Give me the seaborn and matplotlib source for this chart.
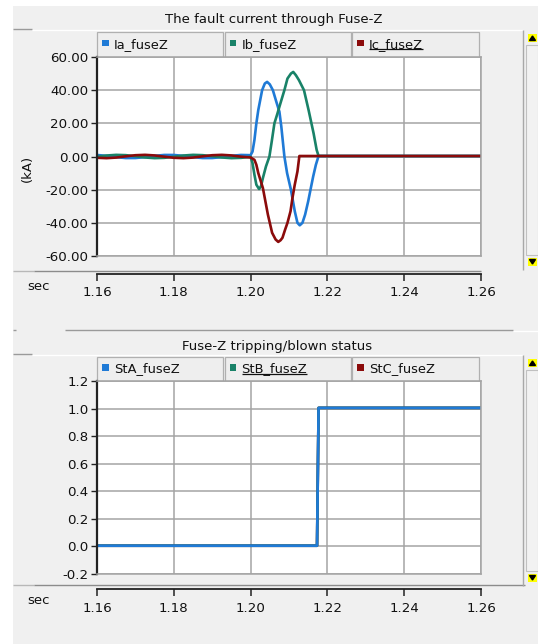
import matplotlib
matplotlib.use("Agg")
import numpy as np
import pandas as pd
import seaborn as sns
import matplotlib.pyplot as plt
from matplotlib.patches import Rectangle, Polygon

# ---------------- data ----------------
t_pre = [1.1600, 1.1625, 1.1650, 1.1675, 1.1700, 1.1725, 1.1750, 1.1775,
         1.1800, 1.1825, 1.1850, 1.1875, 1.1900, 1.1925, 1.1950, 1.1975]
ia_pre = [0.92, 0.37, -0.40, -0.93, -0.92, -0.37, 0.40, 0.93,
          0.92, 0.37, -0.40, -0.93, -0.92, -0.37, 0.40, 0.93]
ib_pre = [-0.16, 0.59, 0.99, 0.81, 0.16, -0.59, -0.99, -0.81,
          -0.16, 0.59, 0.99, 0.81, 0.16, -0.59, -0.99, -0.81]
ic_pre = [-0.77, -1.00, -0.64, 0.10, 0.77, 1.00, 0.64, -0.10,
          -0.77, -1.00, -0.64, 0.10, 0.77, 1.00, 0.64, -0.10]

t_ia = [1.2000, 1.2005, 1.2010, 1.2015, 1.2020, 1.2030, 1.2037, 1.2043, 1.2050,
        1.2058, 1.2067, 1.2075, 1.2080, 1.2088, 1.2095, 1.2105, 1.2115, 1.2122,
        1.2128, 1.2135, 1.2142, 1.2150, 1.2156, 1.2163, 1.2170, 1.2177, 1.2600]
ia_f = [0.8, 3.0, 10.0, 20.0, 28.0, 40.0, 44.0, 45.0, 43.5,
        40.0, 33.0, 27.0, 18.0, 0.0, -10.0, -20.0, -33.0, -40.0,
        -41.5, -40.0, -35.0, -27.0, -20.0, -12.0, -5.0, 0.3, 0.3]

t_ib = [1.2000, 1.2005, 1.2010, 1.2015, 1.2022, 1.2027, 1.2032, 1.2040, 1.2049,
        1.2055, 1.2062, 1.2070, 1.2075, 1.2088, 1.2096, 1.2105, 1.2111, 1.2118,
        1.2126, 1.2139, 1.2151, 1.2164, 1.2172, 1.2177, 1.2600]
ib_f = [-0.2, -4.0, -11.0, -17.0, -19.6, -18.0, -13.0, -6.0, 0.0,
        9.0, 20.0, 26.0, 30.0, 40.0, 47.0, 50.0, 51.0, 49.0,
        46.0, 40.0, 28.0, 14.0, 4.0, 0.3, 0.3]

t_ic = [1.2000, 1.2010, 1.2015, 1.2020, 1.2032, 1.2045, 1.2056, 1.2065, 1.2072,
        1.2078, 1.2083, 1.2090, 1.2096, 1.2104, 1.2109, 1.2115, 1.2122, 1.2127, 1.2600]
ic_f = [-0.6, -2.0, -5.0, -10.0, -19.0, -35.0, -46.0, -50.0, -51.5,
        -50.5, -49.0, -44.0, -40.0, -33.0, -25.0, -17.0, -9.0, 0.3, 0.3]

t_st = [1.1600, 1.2173, 1.2177, 1.2600]
st_a = [0.005, 0.005, 1.005, 1.005]
st_b = [0.005, 0.005, 1.005, 1.005]
st_c = [0.005, 0.005, 1.005, 1.005]

x_ticks = [1.16, 1.18, 1.20, 1.22, 1.24, 1.26]
y_ticks_top = [-60, -40, -20, 0, 20, 40, 60]
y_ticks_bot = [-0.2, 0.0, 0.2, 0.4, 0.6, 0.8, 1.0, 1.2]

top_labels = ["Ia_fuseZ", "Ib_fuseZ", "Ic_fuseZ"]
bot_labels = ["StA_fuseZ", "StB_fuseZ", "StC_fuseZ"]
title_top = "The fault current through Fuse-Z"
title_bot = "Fuse-Z tripping/blown status"

C_BLUE, C_GREEN, C_RED = "#1f7ad6", "#198268", "#8b0b0b"
colors = [C_BLUE, C_GREEN, C_RED]

# ---------------- figure ----------------
sns.set_theme(style="white")
plt.rcParams["font.family"] = ["DejaVu Sans"]

W, H = 538, 644
fig = plt.figure(figsize=(W / 100, H / 100), dpi=100, facecolor="#f0f0f0")

bg = fig.add_axes([0, 0, 1, 1], zorder=0)
bg.set_xlim(0, W)
bg.set_ylim(H, 0)
bg.axis("off")
bg.add_patch(Rectangle((0, 0), 12.7, H, color="white", lw=0))
bg.add_patch(Rectangle((0, 0), W, 6, color="white", lw=0))


def px_axes(x0, y0, x1, y1, z=2):
    return fig.add_axes([x0 / W, 1 - y1 / H, (x1 - x0) / W, (y1 - y0) / H], zorder=z)


def hline(y, x0, x1, c="#a0a0a0", lw=1.0):
    bg.plot([x0, x1], [y, y], color=c, lw=lw, solid_capstyle="butt")


def vline(x, y0, y1, c="#a0a0a0", lw=1.0):
    bg.plot([x, x], [y0, y1], color=c, lw=lw, solid_capstyle="butt")


def style_plot(ax, ylim, yticks, fmt):
    ax.set_facecolor("white")
    ax.set_xlim(1.16, 1.26)
    ax.set_ylim(*ylim)
    ax.set_xticks(x_ticks)
    ax.set_yticks(yticks)
    ax.set_yticklabels([fmt % v for v in yticks], fontsize=9.6, color="#111111")
    ax.tick_params(axis="x", length=0, labelbottom=False)
    ax.tick_params(axis="y", direction="out", length=4, width=1.0, color="#222222", pad=2, left=True)
    ax.grid(True, color="#a4a4a4", lw=1.1)
    ax.set_axisbelow(True)
    for s in ["top", "right", "bottom"]:
        ax.spines[s].set_color("#a4a4a4")
        ax.spines[s].set_linewidth(1.1)
    ax.spines["left"].set_color("#222222")
    ax.spines["left"].set_linewidth(1.6)
    ax.set_xlabel("")
    ax.set_ylabel("")


def x_strip(y):
    ax = px_axes(97, y - 1, 481, y, z=3)
    ax.set_xlim(1.16, 1.26)
    ax.set_ylim(0, 1)
    ax.patch.set_alpha(0)
    for s in ["top", "left", "right"]:
        ax.spines[s].set_visible(False)
    ax.spines["bottom"].set_color("#222222")
    ax.spines["bottom"].set_linewidth(1.3)
    ax.set_yticks([])
    ax.set_xticks(x_ticks)
    ax.set_xticklabels(["%.2f" % v for v in x_ticks], fontsize=9.6, color="#111111")
    ax.tick_params(axis="x", direction="out", length=5, width=1.1, color="#222222", pad=4, bottom=True)
    return ax


def legend_bar(y0, y1, labels, underline_idx):
    xs = [97, 224.5, 352, 480.5]
    yc = (y0 + y1) / 2
    texts = []
    for i, lab in enumerate(labels):
        bg.add_patch(Rectangle((xs[i], y0), xs[i + 1] - xs[i] - 1.5, y1 - y0,
                               facecolor="#eeeeee", edgecolor="#b0b0b0", lw=0.9))
        bg.add_patch(Rectangle((xs[i] + 5, yc - 4.5), 6.5, 6.5, color=colors[i], lw=0))
        t = bg.text(xs[i] + 17, yc, lab, ha="left", va="center", fontsize=9.4, color="#111111")
        texts.append(t)
    return texts[underline_idx]


def scroll(y_top, y_bot):
    vline(523, y_top - 3, y_bot + 3, c="#a8a8a8")
    bg.add_patch(Rectangle((525.5, y_top + 12), 12, (y_bot - 12) - (y_top + 12),
                           facecolor="#f2f2f2", edgecolor="#c0c0c0", lw=0.8))
    bg.add_patch(Rectangle((528, y_top + 1), 9, 8, color="#ffff00", lw=0))
    bg.add_patch(Polygon([(529.5, y_top + 7.5), (535.5, y_top + 7.5), (532.5, y_top + 3)], color="black"))
    bg.add_patch(Rectangle((528, y_bot - 9), 9, 8, color="#ffff00", lw=0))
    bg.add_patch(Polygon([(529.5, y_bot - 7.5), (535.5, y_bot - 7.5), (532.5, y_bot - 3)], color="black"))


# ---- top panel ----
bg.text(274, 19, title_top, ha="center", va="center", fontsize=9.5, color="#111111")
hline(29, 12.7, 32, c="#9a9a9a")
hline(30, 32, 523, c="#ffffff")
u1 = legend_bar(32, 56.5, top_labels, 2)

ax1 = px_axes(97, 57, 481, 256)
sns.lineplot(x=t_pre + t_ia, y=ia_pre + ia_f, ax=ax1, color=C_BLUE, lw=1.9, estimator=None, sort=False)
sns.lineplot(x=t_pre + t_ib, y=ib_pre + ib_f, ax=ax1, color=C_GREEN, lw=1.9, estimator=None, sort=False)
sns.lineplot(x=t_pre + t_ic, y=ic_pre + ic_f, ax=ax1, color=C_RED, lw=1.9, estimator=None, sort=False)
style_plot(ax1, (-60, 60), y_ticks_top, "%.2f")
bg.text(27, 168, "(kA)", rotation=90, ha="center", va="center", fontsize=9.5, color="#111111")

hline(270.5, 12.7, 34, c="#b8b8b8")
hline(270.5, 34, 481, c="#8c8c8c")
x_strip(273.5)
bg.text(39, 286, "sec", ha="center", va="center", fontsize=9.5, color="#111111")
scroll(33, 267)

# ---- bottom panel ----
hline(330, 12.7, 16, c="#9a9a9a")
hline(330, 65, 513, c="#9a9a9a")
hline(331, 513, 538, c="#ffffff")
bg.text(277, 346, title_bot, ha="center", va="center", fontsize=9.5, color="#111111")
hline(354, 12.7, 32, c="#9a9a9a")
hline(355, 32, 523, c="#ffffff")
u2 = legend_bar(356.5, 380.5, bot_labels, 1)

ax2 = px_axes(97, 381, 481, 574)
sns.lineplot(x=t_st, y=st_c, ax=ax2, color=C_RED, lw=1.9, estimator=None, sort=False)
sns.lineplot(x=t_st, y=st_b, ax=ax2, color=C_GREEN, lw=1.9, estimator=None, sort=False)
sns.lineplot(x=t_st, y=st_a, ax=ax2, color=C_BLUE, lw=1.9, estimator=None, sort=False)
style_plot(ax2, (-0.2, 1.2), y_ticks_bot, "%.1f")

hline(584.5, 12.7, 34, c="#b8b8b8")
hline(584.5, 34, 525, c="#8c8c8c")
x_strip(589)
bg.text(39, 600, "sec", ha="center", va="center", fontsize=9.5, color="#111111")
scroll(358, 583)

# underlines for the active legend entries
fig.canvas.draw()
inv = bg.transData.inverted()
for t in (u1, u2):
    bb = t.get_window_extent()
    (x0, y0), (x1, y1) = inv.transform([(bb.x0, bb.y0), (bb.x1, bb.y1)])
    ybot = max(y0, y1)
    hline(ybot - 1.5, x0, x1, c="#111111", lw=0.9)

fig.savefig("out.png", dpi=100, facecolor=fig.get_facecolor())
